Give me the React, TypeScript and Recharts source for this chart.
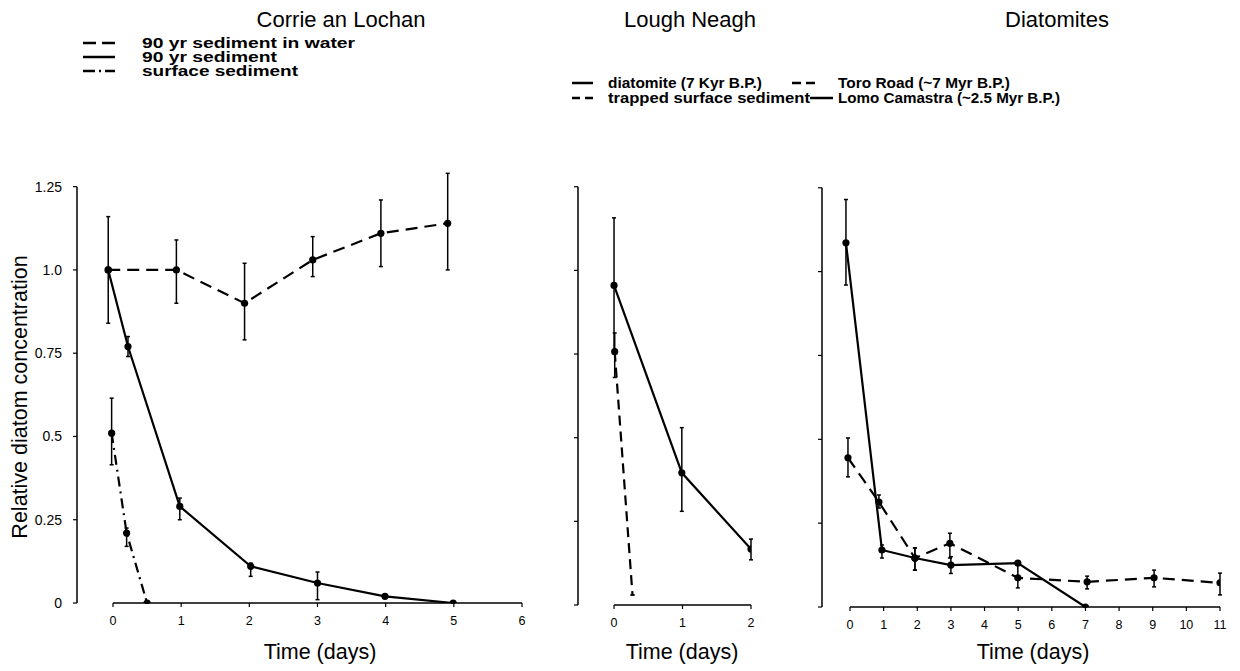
import React from 'react';
import { LineChart, Line, XAxis, YAxis, ErrorBar, ReferenceLine } from 'recharts';

const W = 1240;
const H = 671;
const FONT = '"Liberation Sans", Arial, Helvetica, sans-serif';

// Corrie an Lochan
const waterDays = [-0.07, 0.93, 1.93, 2.93, 3.93, 4.91];
const waterConc = [1.0, 1.0, 0.9, 1.03, 1.11, 1.14];
const waterLow = [0.84, 0.9, 0.79, 0.98, 1.01, 1.0];
const waterHigh = [1.16, 1.09, 1.02, 1.1, 1.21, 1.29];

const sed90Days = [-0.07, 0.22, 0.98, 2.02, 3.0, 3.99, 4.99];
const sed90Conc = [1.0, 0.77, 0.29, 0.11, 0.06, 0.02, 0.0];
const sed90Low = [1.0, 0.74, 0.25, 0.08, 0.01, 0.02, 0.0];
const sed90High = [1.0, 0.8, 0.315, 0.12, 0.093, 0.02, 0.0];

const surfDays = [-0.02, 0.2, 0.5];
const surfConc = [0.51, 0.21, 0.0];
const surfLow = [0.415, 0.17, 0.0];
const surfHigh = [0.615, 0.225, 0.0];

// Lough Neagh
const diatDays = [0.0, 0.99, 2.0];
const diatConc = [0.955, 0.395, 0.167];
const diatLow = [0.76, 0.28, 0.135];
const diatHigh = [1.157, 0.53, 0.197];

const trapDays = [0.01, 0.27];
const trapConc = [0.757, 0.03];
const trapLow = [0.68, 0.03];
const trapHigh = [0.813, 0.03];

// Diatomites
const lomoDays = [-0.12, 0.95, 1.93, 3.0, 4.99, 7.0];
const lomoConc = [1.086, 0.17, 0.146, 0.125, 0.131, 0.0];
const lomoLow = [0.96, 0.146, 0.11, 0.1, 0.131, 0.0];
const lomoHigh = [1.215, 0.185, 0.176, 0.15, 0.131, 0.0];

const toroDays = [-0.06, 0.86, 1.93, 2.97, 4.99, 7.05, 9.04, 11.0];
const toroConc = [0.445, 0.313, 0.146, 0.19, 0.087, 0.075, 0.087, 0.072];
const toroLow = [0.388, 0.295, 0.11, 0.146, 0.057, 0.054, 0.06, 0.036];
const toroHigh = [0.504, 0.334, 0.176, 0.22, 0.131, 0.092, 0.11, 0.101];

const yTicks = [0, 0.25, 0.5, 0.75, 1.0, 1.25];
const xTicks1 = [0, 1, 2, 3, 4, 5, 6];
const xTicks2 = [0, 1, 2];
const xTicks3 = [0, 1, 2, 3, 4, 5, 6, 7, 8, 9, 10, 11];

const toPoints = (xs: number[], ys: number[], lo: number[], hi: number[]) =>
  xs.map((x, i) => ({ x, y: ys[i], err: [ys[i] - lo[i], hi[i] - ys[i]] }));

type Series = { name: string; data: any[]; dash?: string; hideLastDot?: boolean };

const makeDot = (count: number, hideLast?: boolean) => (p: any) => {
  if (hideLast && p.index === count - 1) return <g key={`d${p.index}`} />;
  return <circle key={`d${p.index}`} cx={p.cx} cy={p.cy} r={3.6} fill="#000" stroke="none" />;
};

type PanelProps = {
  left: number;
  right: number;
  top: number;
  bottom: number;
  yAxisW: number;
  xDomain: [number, number];
  xTicks: number[];
  yLabels: boolean;
  series: Series[];
};

function Panel({ left, right, top, bottom, yAxisW, xDomain, xTicks, yLabels, series }: PanelProps) {
  return (
    <div style={{ position: 'absolute', left: 0, top: 0 }}>
      <LineChart
        width={W}
        height={H}
        margin={{ top, bottom: H - bottom - 30, left: left - yAxisW, right: W - right }}
      >
        <XAxis
          type="number"
          dataKey="x"
          domain={xDomain}
          ticks={xTicks}
          allowDataOverflow
          axisLine={false}
          stroke="#000"
          tickSize={4}
          tickMargin={9}
          height={30}
          tick={{ fontSize: 12.5, fill: '#000', fontFamily: FONT }}
          tickLine={{ stroke: '#000', strokeWidth: 1.2 }}
        />
        <YAxis
          type="number"
          domain={[0, 1.3]}
          ticks={yTicks}
          allowDataOverflow
          width={yAxisW}
          axisLine={false}
          stroke="#000"
          tickSize={4}
          tickMargin={11}
          tick={{ fontSize: 14, fill: '#000', fontFamily: FONT }}
          tickLine={{ stroke: '#000', strokeWidth: 1.2 }}
          tickFormatter={(v: number) => (yLabels ? (v === 1 ? '1.0' : String(v)) : '')}
        />
        <ReferenceLine
          ifOverflow="visible"
          segment={[{ x: xDomain[0], y: 0 }, { x: xDomain[0], y: 1.25 }]}
          stroke="#000"
          strokeWidth={1.5}
        />
        <ReferenceLine
          ifOverflow="visible"
          segment={[{ x: 0, y: 0 }, { x: xTicks[xTicks.length - 1], y: 0 }]}
          stroke="#000"
          strokeWidth={1.5}
        />
        {series.map((s) => (
          <Line
            key={s.name}
            name={s.name}
            data={s.data}
            dataKey="y"
            type="linear"
            stroke="#000"
            strokeWidth={2.2}
            strokeDasharray={s.dash}
            dot={makeDot(s.data.length, s.hideLastDot)}
            activeDot={false}
            isAnimationActive={false}
          >
            <ErrorBar dataKey="err" direction="y" width={2} stroke="#000" strokeWidth={1.5} />
          </Line>
        ))}
      </LineChart>
    </div>
  );
}

const corrie: Series[] = [
  { name: '90 yr sediment in water', data: toPoints(waterDays, waterConc, waterLow, waterHigh), dash: '12 7' },
  { name: '90 yr sediment', data: toPoints(sed90Days, sed90Conc, sed90Low, sed90High) },
  { name: 'surface sediment', data: toPoints(surfDays, surfConc, surfLow, surfHigh), dash: '10 5 2 5' },
];

const neagh: Series[] = [
  { name: 'diatomite (7 Kyr B.P.)', data: toPoints(diatDays, diatConc, diatLow, diatHigh) },
  { name: 'trapped surface sediment', data: toPoints(trapDays, trapConc, trapLow, trapHigh), dash: '10 6', hideLastDot: true },
];

const diatomites: Series[] = [
  { name: 'Lomo Camastra (~2.5 Myr B.P.)', data: toPoints(lomoDays, lomoConc, lomoLow, lomoHigh) },
  { name: 'Toro Road (~7 Myr B.P.)', data: toPoints(toroDays, toroConc, toroLow, toroHigh), dash: '12 7' },
];

function Texts() {
  const lab = { fontFamily: FONT, fontSize: 21.5, fill: '#000' } as const;
  const leg = { fontFamily: FONT, fontWeight: 700, fill: '#000' } as const;
  const st = { stroke: '#000', strokeWidth: 2.5 } as const;
  return (
    <svg width={W} height={H} style={{ position: 'absolute', left: 0, top: 0, pointerEvents: 'none' }}>
      <text x={341} y={27} textAnchor="middle" {...lab} fontSize={22}>Corrie an Lochan</text>
      <text x={690} y={27} textAnchor="middle" {...lab} fontSize={22}>Lough Neagh</text>
      <text x={1057} y={27} textAnchor="middle" {...lab} fontSize={22}>Diatomites</text>

      <line x1={83} x2={115} y1={43} y2={43} {...st} strokeDasharray="13 6" />
      <line x1={83} x2={115} y1={57} y2={57} {...st} />
      <line x1={83} x2={115} y1={71} y2={71} {...st} strokeDasharray="12 4 2 4 12" />
      <text x={142} y={48} fontSize={14} textLength={213} lengthAdjust="spacingAndGlyphs" {...leg}>90 yr sediment in water</text>
      <text x={142} y={62} fontSize={14} textLength={135} lengthAdjust="spacingAndGlyphs" {...leg}>90 yr sediment</text>
      <text x={142} y={76} fontSize={14} textLength={156} lengthAdjust="spacingAndGlyphs" {...leg}>surface sediment</text>

      <line x1={572} x2={593} y1={83} y2={83} {...st} />
      <line x1={572} x2={593} y1={98} y2={98} {...st} strokeDasharray="8 5" />
      <text x={608} y={88} fontSize={15} textLength={154} lengthAdjust="spacingAndGlyphs" {...leg}>diatomite (7 Kyr B.P.)</text>
      <text x={608} y={103} fontSize={15} textLength={202} lengthAdjust="spacingAndGlyphs" {...leg}>trapped surface sediment</text>

      <line x1={792} x2={815} y1={83} y2={83} {...st} strokeDasharray="9 5" />
      <line x1={810} x2={833} y1={98} y2={98} {...st} />
      <text x={838} y={88} fontSize={15} textLength={172} lengthAdjust="spacingAndGlyphs" {...leg}>Toro Road (~7 Myr B.P.)</text>
      <text x={838} y={103} fontSize={15} textLength={222} lengthAdjust="spacingAndGlyphs" {...leg}>Lomo Camastra (~2.5 Myr B.P.)</text>

      <text x={27} y={397} textAnchor="middle" transform="rotate(-90 27 397)" {...lab}>Relative diatom concentration</text>
      <text x={320} y={659} textAnchor="middle" {...lab}>Time (days)</text>
      <text x={682} y={659} textAnchor="middle" {...lab}>Time (days)</text>
      <text x={1033} y={659} textAnchor="middle" {...lab}>Time (days)</text>
    </svg>
  );
}

export default function App() {
  return (
    <div style={{ position: 'absolute', left: 0, top: 0, width: W, height: H, background: '#fff', fontFamily: FONT }}>
      <Panel left={77} right={522} top={170} bottom={603} yAxisW={60} xDomain={[-0.528, 6]} xTicks={xTicks1} yLabels series={corrie} />
      <Panel left={578} right={751} top={170} bottom={605} yAxisW={10} xDomain={[-0.526, 2]} xTicks={xTicks2} yLabels={false} series={neagh} />
      <Panel left={822} right={1220} top={171} bottom={607} yAxisW={10} xDomain={[-0.832, 11]} xTicks={xTicks3} yLabels={false} series={diatomites} />
      <Texts />
    </div>
  );
}
